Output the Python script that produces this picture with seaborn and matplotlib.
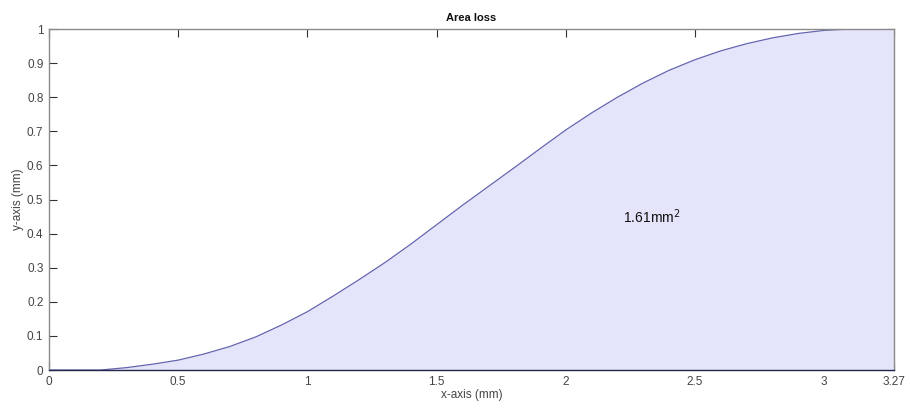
import matplotlib
matplotlib.use("Agg")
import matplotlib.pyplot as plt
import seaborn as sns
import pandas as pd

# Profile of the removed material (x and y in mm)
x_mm = [0.0, 0.1, 0.2, 0.3, 0.4, 0.5, 0.6, 0.7, 0.8, 0.9,
        1.0, 1.1, 1.2, 1.3, 1.4, 1.5, 1.6, 1.7, 1.8, 1.9,
        2.0, 2.1, 2.2, 2.3, 2.4, 2.5, 2.6, 2.7, 2.8, 2.9,
        3.0, 3.1, 3.2, 3.27]
y_mm = [0.0, 0.0, 0.0, 0.007, 0.017, 0.029, 0.047, 0.069, 0.097, 0.132,
        0.171, 0.217, 0.265, 0.315, 0.369, 0.426, 0.483, 0.538, 0.593, 0.649,
        0.704, 0.754, 0.800, 0.842, 0.879, 0.910, 0.936, 0.957, 0.974, 0.987,
        0.996, 1.0, 1.0, 1.0]

area_label = "1.61mm$^2$"
x_ticks = [0, 0.5, 1, 1.5, 2, 2.5, 3, 3.27]
x_tick_labels = ["0", "0.5", "1", "1.5", "2", "2.5", "3", "3.27"]
y_ticks = [0, 0.1, 0.2, 0.3, 0.4, 0.5, 0.6, 0.7, 0.8, 0.9, 1]
y_tick_labels = ["0", "0.1", "0.2", "0.3", "0.4", "0.5", "0.6", "0.7", "0.8", "0.9", "1"]

df = pd.DataFrame({"x": x_mm, "y": y_mm})

sns.set_style("white")
plt.rcParams["font.family"] = ["Liberation Sans", "DejaVu Sans"]

fig = plt.figure(figsize=(9.10, 4.08), dpi=100)
ax = fig.add_axes([0.0538, 0.0931, 0.9286, 0.8358])
ax.set_axisbelow(True)

ax.fill_between(df["x"], 0, df["y"], color="#E4E4FA", linewidth=0, zorder=1)
sns.lineplot(data=df, x="x", y="y", ax=ax, color="#6464B0", linewidth=0.9,
             zorder=2)

ax.text(2.22, 0.45, area_label, fontsize=10, color="#111111",
        ha="left", va="center")

ax.set_xlim(0, 3.27)
ax.set_ylim(0, 1)
ax.set_xticks(x_ticks)
ax.set_xticklabels(x_tick_labels)
ax.set_yticks(y_ticks)
ax.set_yticklabels(y_tick_labels)

ax.tick_params(axis="both", direction="in", length=6, width=0.8,
               color="#333333", labelcolor="#444444", labelsize=8.5, pad=4,
               left=True, bottom=True, top=True, right=True)

for side in ["left", "top", "right"]:
    ax.spines[side].set_color("#8a8a8a")
    ax.spines[side].set_linewidth(1.0)
ax.spines["bottom"].set_color("#26264a")
ax.spines["bottom"].set_linewidth(1.0)
for sp in ax.spines.values():
    sp.set_zorder(3)

ax.set_xlabel("x-axis (mm)", fontsize=8.5, color="#444444", labelpad=1)
ax.set_ylabel("y-axis (mm)", fontsize=8.5, color="#444444", labelpad=2)
ax.set_title("Area loss", fontsize=8, fontweight="bold", color="#111111",
             pad=6)

fig.savefig("out.png", dpi=100, facecolor="white")
